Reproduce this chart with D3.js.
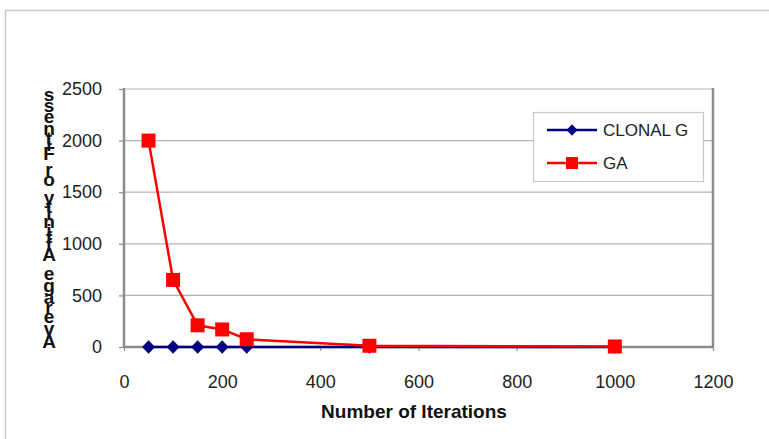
<!DOCTYPE html>
<html><head><meta charset="utf-8">
<script src="https://cdn.jsdelivr.net/npm/d3@7"></script>
<style>body{margin:0;background:#fff}svg{display:block}</style>
</head><body>
<svg id="c" width="769" height="439"></svg>
<script>
const iterations = [50, 100, 150, 200, 250, 500, 1000];
const clonalgValues = [0, 0, 0, 0, 0, 0, 0];
const gaValues = [2000, 650, 210, 170, 75, 12, 5];
const xTicks = [0, 200, 400, 600, 800, 1000, 1200];
const yTicks = [0, 500, 1000, 1500, 2000, 2500];
const seriesNames = ["CLONAL G", "GA"];
const xTitle = "Number of Iterations";
const yTitle = "Average Affinity or Fitness";

const svg = d3.select("#c");
const W = 769, H = 439;
const m = {left: 124, right: 713, top: 89, bottom: 347};
const FONT = "Liberation Sans, Arial, sans-serif";

// outer frame
svg.append("rect").attr("x", 0).attr("y", 0).attr("width", W).attr("height", H).attr("fill", "#ffffff");
svg.append("path").attr("d", `M5.5,${H} V10.5 H${W}`).attr("fill", "none").attr("stroke", "#c8c8c8").attr("stroke-width", 1.5);

const x = d3.scaleLinear().domain([0, 1200]).range([m.left, m.right]);
const y = d3.scaleLinear().domain([0, 2500]).range([m.bottom, m.top]);

// gridlines
svg.append("g").selectAll("line").data(yTicks.filter(d => d > 0)).join("line")
  .attr("x1", m.left).attr("x2", m.right).attr("y1", d => y(d)).attr("y2", d => y(d))
  .attr("stroke", "#b4b4b4").attr("stroke-width", 1.2);

// right border
svg.append("line").attr("x1", m.right).attr("x2", m.right).attr("y1", m.top - 1).attr("y2", m.bottom)
  .attr("stroke", "#8c8c8c").attr("stroke-width", 2.5);

// axes
const yAxis = d3.axisLeft(y).tickValues(yTicks).tickSize(5).tickPadding(17).tickFormat(d3.format("d"));
const gy = svg.append("g").attr("transform", `translate(${m.left},0)`).call(yAxis);
const xAxis = d3.axisBottom(x).tickValues(xTicks).tickSize(4).tickPadding(22).tickFormat(d3.format("d"));
const gx = svg.append("g").attr("transform", `translate(0,${m.bottom})`).call(xAxis);
[gx, gy].forEach(g => {
  g.select(".domain").attr("stroke", "#8c8c8c").attr("stroke-width", 2.5);
  g.selectAll(".tick line").attr("stroke", "#8c8c8c").attr("stroke-width", 1.2);
  g.selectAll(".tick text").attr("fill", "#222").style("font-family", FONT).style("font-size", "18px");
});
gx.select(".domain").attr("d", `M${m.left},0H${m.right}`);
gy.select(".domain").attr("d", `M0,${m.bottom}V${m.top - 1}`);
gx.selectAll(".tick text").attr("dy", "0.35em").attr("y", 35);

// x title
svg.append("text").attr("x", 414).attr("y", 418).attr("text-anchor", "middle")
  .style("font-family", FONT).style("font-size", "19px").style("font-weight", "bold").attr("fill", "#111")
  .text(xTitle);

// y title: stacked glyphs, bottom to top
(function(){
  const tmp = svg.append("text").style("font-family", FONT).style("font-size", "19px").style("font-weight", "bold");
  const chars = yTitle.split("");
  const centers = [];
  let acc = 0;
  chars.forEach((ch, i) => {
    tmp.text(ch === " " ? "\u00a0" : ch);
    const w = tmp.node().getComputedTextLength();
    centers.push(acc + w / 2);
    acc += w;
  });
  tmp.remove();
  const yb = 341, yt = 94;
  const s = d3.scaleLinear().domain([centers[0], centers[centers.length - 1]]).range([yb, yt]);
  svg.append("g").selectAll("text").data(chars.map((c, i) => ({c, p: centers[i]})).filter(d => d.c !== " ")).join("text")
    .attr("x", 49).attr("y", d => s(d.p)).attr("dy", "0.35em").attr("text-anchor", "middle")
    .style("font-family", FONT).style("font-size", "19px").style("font-weight", "bold").attr("fill", "#111")
    .text(d => d.c);
})();

// series
const colors = ["#000080", "#ff0000"];
const line = d3.line().x(d => x(d[0])).y(d => y(d[1]));
const clon = iterations.map((v, i) => [v, clonalgValues[i]]);
const ga = iterations.map((v, i) => [v, gaValues[i]]);
const diamond = (cx, cy, r) => `M${cx},${cy - r * 1.05}L${cx + r},${cy}L${cx},${cy + r * 1.05}L${cx - r},${cy}Z`;

svg.append("path").datum(clon).attr("d", line).attr("fill", "none").attr("stroke", colors[0]).attr("stroke-width", 2.5);
svg.append("g").selectAll("path").data(clon).join("path")
  .attr("d", d => diamond(x(d[0]), y(d[1]), 6.5)).attr("fill", colors[0]);

svg.append("path").datum(ga).attr("d", line).attr("fill", "none").attr("stroke", colors[1]).attr("stroke-width", 2.5);
svg.append("g").selectAll("rect").data(ga).join("rect")
  .attr("x", d => x(d[0]) - 7).attr("y", d => y(d[1]) - 7).attr("width", 14).attr("height", 14)
  .attr("fill", colors[1]);

// legend
const lg = svg.append("g");
lg.append("rect").attr("x", 533.5).attr("y", 112.5).attr("width", 170).attr("height", 69)
  .attr("fill", "#fff").attr("stroke", "#c8c8c8").attr("stroke-width", 1.2);
const ly = [130, 163];
seriesNames.forEach((n, i) => {
  lg.append("line").attr("x1", 547).attr("x2", 597).attr("y1", ly[i]).attr("y2", ly[i])
    .attr("stroke", colors[i]).attr("stroke-width", 2.5);
  if (i === 0) lg.append("path").attr("d", diamond(572, ly[i], 5.5)).attr("fill", colors[0]);
  else lg.append("rect").attr("x", 566).attr("y", ly[i] - 6).attr("width", 12).attr("height", 12).attr("fill", colors[1]);
  lg.append("text").attr("x", 603).attr("y", ly[i]).attr("dy", "0.35em")
    .style("font-family", FONT).style("font-size", "17px").attr("fill", "#222").text(n);
});
</script>
</body></html>
